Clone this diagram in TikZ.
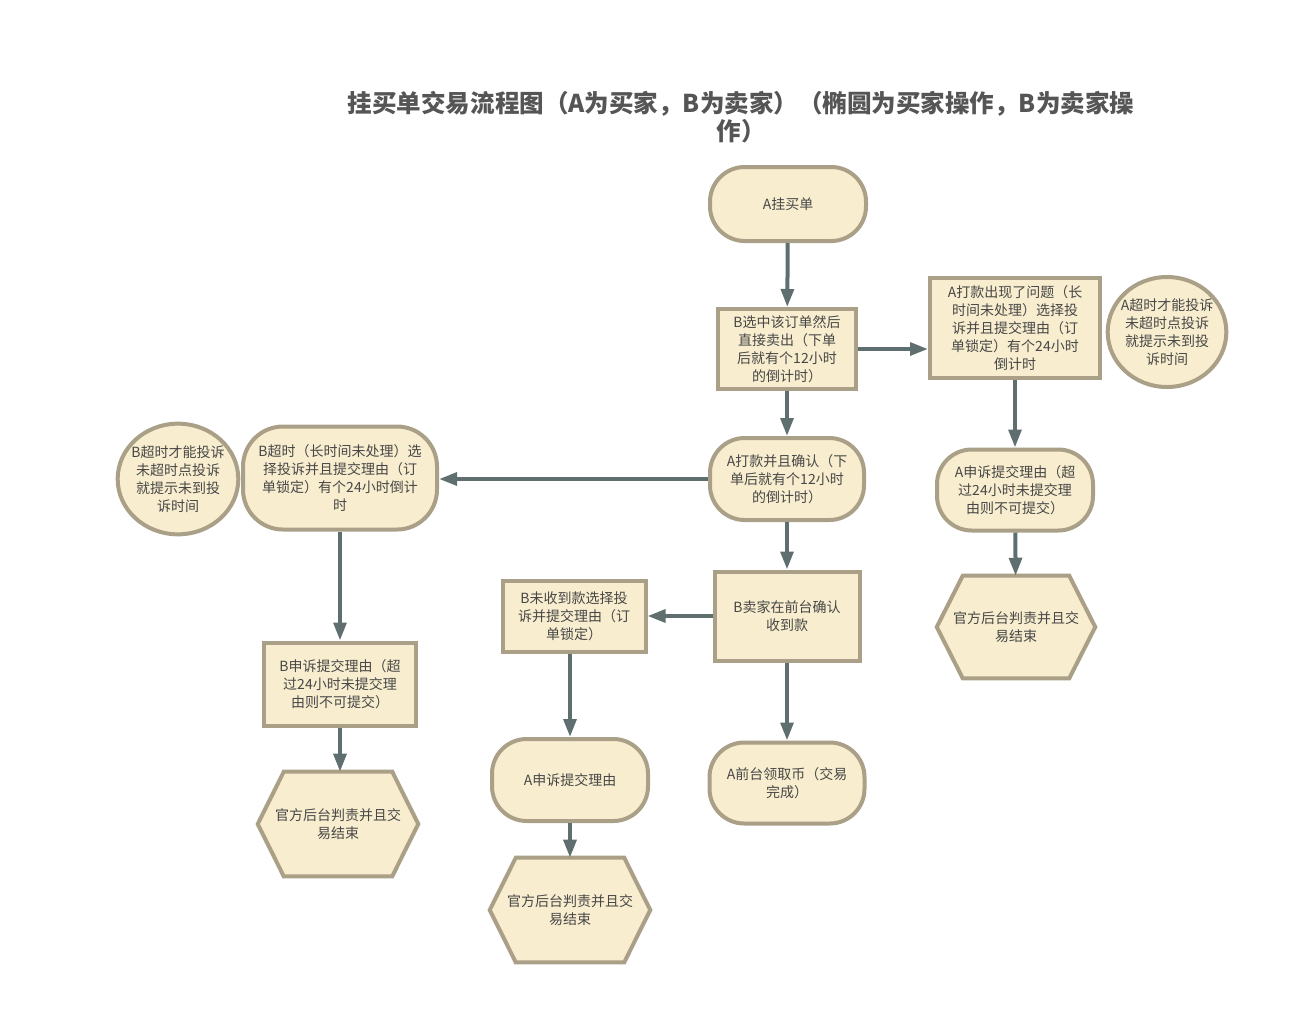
\documentclass[tikz,border=0pt]{standalone}
\usepackage{fontspec}
\setmainfont{Noto Sans CJK SC}
\usetikzlibrary{shapes.geometric,arrows.meta,backgrounds}
\definecolor{boxfill}{HTML}{F8EDCE}
\definecolor{boxline}{HTML}{AAA087}
\definecolor{arrowc}{HTML}{5F6E6E}
\definecolor{txt}{HTML}{474747}
\definecolor{titlec}{HTML}{555555}
\tikzset{
  base/.style={draw=boxline, fill=boxfill, line width=3pt, inner sep=0pt, align=center,
    text=txt, font=\fontsize{10.5}{13.5}\selectfont},
  procbox/.style={base, rectangle},
  termbox/.style={base, rectangle, rounded corners=26pt},
  ovalbox/.style={draw=boxline, fill=boxfill, line width=3pt, inner sep=0pt, ellipse},
  ovaltext/.style={align=center, text=txt, font=\fontsize{10.5}{13.5}\selectfont, inner sep=0pt},
  hexbox/.style={rectangle, inner sep=0pt, align=center, text=txt, font=\fontsize{10.5}{13.5}\selectfont},
  hexline/.style={draw=boxline, fill=boxfill, line width=3pt, line join=miter},
  flow/.style={draw=arrowc, line width=3pt, -{Triangle[length=13.5pt,width=9.5pt]}},
}
\begin{document}
\begin{tikzpicture}[x=0.75pt,y=-0.75pt]
\useasboundingbox (0,0) rectangle (1289,1022);
\node[text=titlec, font=\fontsize{18.4}{21}\selectfont\bfseries, align=center] (title) at (741,117)
  {挂买单交易流程图（A为买家，B为卖家）（椭圆为买家操作，B为卖家操\\作）};

\node[termbox, minimum width=117pt, minimum height=55.5pt] (n1) at (788,204) {A挂买单};
\node[procbox, minimum width=103.5pt, minimum height=60pt] (n2) at (787,349)
  {B选中该订单然后\\直接卖出（下单\\后就有个12小时\\的倒计时）};
\node[procbox, minimum width=127.5pt, minimum height=75pt] (n3) at (1015,328)
  {A打款出现了问题（长\\时间未处理）选择投\\诉并且提交理由（订\\单锁定）有个24小时\\倒计时};
\node[ovalbox, minimum width=89pt, minimum height=82.5pt] (n4) at (1167,332) {};
\node[ovaltext] (t4) at (n4.center) {A超时才能投诉\\未超时点投诉\\就提示未到投\\诉时间};
\node[termbox, minimum width=115.5pt, minimum height=61.5pt] (n5) at (787,479)
  {A打款并且确认（下\\单后就有个12小时\\的倒计时）};
\node[termbox, rounded corners=30pt, minimum width=145.5pt, minimum height=77.25pt] (n6) at (340,478)
  {B超时（长时间未处理）选\\择投诉并且提交理由（订\\单锁定）有个24小时倒计\\时};
\node[ovalbox, minimum width=90.5pt, minimum height=83pt] (n7) at (178,479) {};
\node[ovaltext] (t7) at (n7.center) {B超时才能投诉\\未超时点投诉\\就提示未到投\\诉时间};
\node[termbox, minimum width=117pt, minimum height=60.75pt] (n8) at (1015,490)
  {A申诉提交理由（超\\过24小时未提交理\\由则不可提交）};
\node[hexbox, minimum width=118.5pt, minimum height=76.5pt] (n9) at (1016,627)
  {官方后台判责并且交\\易结束};
\node[procbox, minimum width=108.75pt, minimum height=66.75pt] (n10) at (787,616)
  {B卖家在前台确认\\收到款};
\node[procbox, minimum width=107.25pt, minimum height=53.25pt] (n11) at (574,616)
  {B未收到款选择投\\诉并提交理由（订\\单锁定）};
\node[procbox, minimum width=114pt, minimum height=62.25pt] (n12) at (340,684)
  {B申诉提交理由（超\\过24小时未提交理\\由则不可提交）};
\node[hexbox, minimum width=120pt, minimum height=78pt] (n13) at (338,824)
  {官方后台判责并且交\\易结束};
\node[termbox, minimum width=117pt, minimum height=61.5pt] (n14) at (570,780)
  {A申诉提交理由};
\node[hexbox, minimum width=120pt, minimum height=78pt] (n15) at (570,910)
  {官方后台判责并且交\\易结束};
\node[termbox, minimum width=116.25pt, minimum height=60.75pt] (n16) at (787,783)
  {A前台领取币（交易\\完成）};

\begin{scope}[on background layer]
\foreach \h in {n9,n13,n15}{
  \draw[hexline] (\h.west) -- ([xshift=19.5pt]\h.north west) -- ([xshift=-19.5pt]\h.north east)
    -- (\h.east) -- ([xshift=-19.5pt]\h.south east) -- ([xshift=19.5pt]\h.south west) -- cycle;
}
\end{scope}

\draw[flow] (n1) -- (n2);
\draw[flow] (n2.east) -- (n2.east -| n3.west);
\draw[flow] (n2) -- (n5);
\draw[flow] (n3) -- (n8);
\draw[flow] (n8) -- (n9);
\draw[flow] (n5.west) -- (n5.west -| n6.east);
\draw[flow] (n5) -- (n10);
\draw[flow] (n10) -- (n11);
\draw[flow] (n10) -- (n16);
\draw[flow] (n6) -- (n12);
\draw[flow] (n12.south) -- (n12.south |- n13.north);
\draw[flow] (n11.south -| n14.north) -- (n14.north);
\draw[flow] (n14) -- (n15);
\end{tikzpicture}
\end{document}
